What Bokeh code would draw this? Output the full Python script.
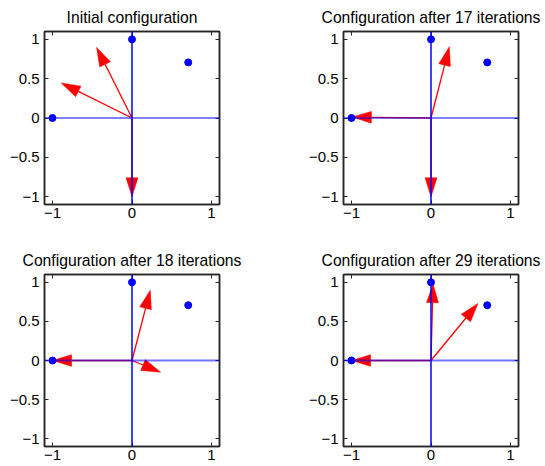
import numpy as np
from bokeh.plotting import figure
from bokeh.models import Range1d, FixedTicker, LinearAxis, Span
from bokeh.layouts import column, row
from bokeh.embed import file_html
from bokeh.resources import INLINE

# ---- data ----
titles = ["Initial configuration", "Configuration after 17 iterations",
          "Configuration after 18 iterations", "Configuration after 29 iterations"]
target_x = [-1.0, 0.0, 0.707]
target_y = [0.0, 1.0, 0.707]

init_u = [-0.89, -0.445, 0.0]
init_v = [0.445, 0.898, -1.0]
it17_u = [-0.99, 0.23, 0.0]
it17_v = [0.012, 0.905, -1.0]
it18_u = [-1.0, 0.23, 0.36]
it18_v = [0.0, 0.90, -0.15]
it29_u = [-1.0, 0.025, 0.59]
it29_v = [0.0, 0.98, 0.73]

x_ticks = [-1, 0, 1]
y_ticks = [-1, -0.5, 0, 0.5, 1]
tick_labels = {-1: "\u22121", -0.5: "\u22120.5", 0: "0", 0.5: "0.5", 1: "1"}

FONT = "Liberation Sans"
HEAD_LEN = 0.24
HEAD_HALF_W = 0.075
FRAME_COLOR = "#262626"


def make_panel(title, u, v, light, width, height, bl, br, bt, bb, fh):
    p = figure(width=width, height=height, frame_width=175, frame_height=fh,
               x_range=Range1d(-1.1, 1.1), y_range=Range1d(-1.1, 1.1),
               output_backend="svg", toolbar_location=None,
               min_border_left=bl, min_border_right=br,
               min_border_top=bt, min_border_bottom=bb,
               background_fill_color="white", border_fill_color="white")
    p.title.text = title
    p.title.text_font = FONT
    p.title.text_font_size = "15.7px"
    p.title.text_font_style = "normal"
    p.title.text_color = "black"
    p.title.align = "center"
    p.title.standoff = 11
    p.grid.visible = False
    p.outline_line_color = FRAME_COLOR
    p.outline_line_width = 1.5

    for ax, ticks in ((p.xaxis[0], x_ticks), (p.yaxis[0], y_ticks)):
        ax.ticker = FixedTicker(ticks=ticks)
        ax.major_label_overrides = tick_labels
        ax.major_label_text_font = FONT
        ax.major_label_text_font_size = "15px"
        ax.major_label_text_color = "black"
        ax.major_label_standoff = 5
        ax.major_tick_in = 4
        ax.major_tick_out = 0
        ax.minor_tick_line_color = None
        ax.axis_line_color = FRAME_COLOR
        ax.axis_line_width = 1.5
        ax.major_tick_line_color = FRAME_COLOR
    p.xaxis[0].major_label_standoff = 3

    for loc, ticks in (("above", x_ticks), ("right", y_ticks)):
        ax = LinearAxis(ticker=FixedTicker(ticks=ticks),
                        major_label_text_color=None,
                        major_label_standoff=0,
                        major_tick_in=4, major_tick_out=0,
                        minor_tick_line_color=None,
                        axis_line_color=FRAME_COLOR, axis_line_width=1.5,
                        major_tick_line_color=FRAME_COLOR)
        p.add_layout(ax, loc)

    u = np.array(u, dtype=float)
    v = np.array(v, dtype=float)
    ln = np.hypot(u, v)
    dx, dy = u / ln, v / ln
    bx, by = u - HEAD_LEN * dx, v - HEAD_LEN * dy
    nx, ny = -dy, dx
    xs = [[u[i], bx[i] + HEAD_HALF_W * nx[i], bx[i] - HEAD_HALF_W * nx[i]] for i in range(len(u))]
    ys = [[v[i], by[i] + HEAD_HALF_W * ny[i], by[i] - HEAD_HALF_W * ny[i]] for i in range(len(u))]

    p.segment(x0=np.zeros(len(u)), y0=np.zeros(len(u)), x1=bx, y1=by,
              line_color="red", line_width=1.3)
    p.patches(xs=xs, ys=ys, fill_color="red", line_color="red", line_width=0.5)

    if light:
        p.add_layout(Span(location=0, dimension="width", line_color="#0000ff",
                          line_alpha=0.55, line_width=2))
    else:
        p.add_layout(Span(location=0, dimension="width", line_color="#0000ff", line_width=1.2))
    p.add_layout(Span(location=0, dimension="height", line_color="#0000ff", line_width=1.5))

    p.scatter(x=target_x, y=target_y, size=7, color="#0000ff", level="overlay")
    return p


FH1 = 173
FH2 = 172
H1 = 243
p1 = make_panel(titles[0], init_u, init_v, False, 299, H1, 44, 80, 31, H1 - 31 - FH1, FH1)
p2 = make_panel(titles[1], it17_u, it17_v, False, 245, H1, 44, 26, 31, H1 - 31 - FH1, FH1)
p3 = make_panel(titles[2], it18_u, it18_v, True, 299, 466 - H1, 44, 80, 31, 466 - H1 - 31 - FH2, FH2)
p4 = make_panel(titles[3], it29_u, it29_v, True, 245, 466 - H1, 44, 26, 31, 466 - H1 - 31 - FH2, FH2)

layout = column(row(p1, p2), row(p3, p4))
open("out.html", "w").write(file_html(layout, INLINE))
